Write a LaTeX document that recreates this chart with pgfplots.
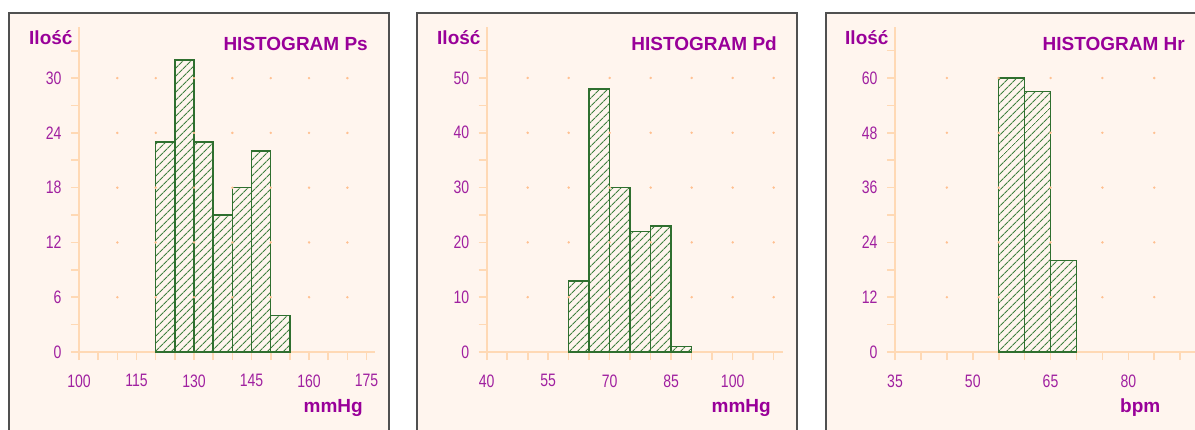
\documentclass[border=0pt]{standalone}
\usepackage{fontspec}
\setmainfont{Liberation Sans}
\newfontfamily\tickfont[FakeStretch=0.78]{Liberation Sans}
\usepackage{pgfplots}
\pgfplotsset{compat=1.18}
\usetikzlibrary{patterns.meta}
\definecolor{bgc}{HTML}{FFF5EE}
\definecolor{bordc}{HTML}{505050}
\definecolor{axc}{HTML}{FFD9B5}
\definecolor{dotc}{HTML}{FFC090}
\definecolor{txtc}{HTML}{990099}
\definecolor{tickc}{HTML}{A020A0}
\definecolor{barc}{HTML}{2F6F2F}
\definecolor{hatchc}{HTML}{3F803F}
\pgfplotsset{
  hist/.style={
    scale only axis, width=296pt, height=325pt,
    axis x line=bottom, axis y line=left,
    axis line style={-, draw=axc, line width=1.8pt},
    tick align=outside, major tick length=8pt, minor tick length=8pt,
    tick style={draw=axc, line width=1.6pt},
    minor tick style={draw=axc, line width=1.6pt},
    tick label style={font=\fontsize{18}{20}\tickfont, text=tickc},
    /pgf/number format/assume math mode=true,
    xticklabel style={yshift=-11pt},
    yticklabel style={xshift=-6pt},
    ymin=0, clip=false,
  },
  dots/.style={only marks, mark=*, mark size=1pt, color=dotc, mark options={draw=none, fill=dotc}},
  bars/.style={ybar interval, draw=barc, line width=1.5pt,
    preaction={fill=bgc},
    pattern={Lines[angle=45,distance=5.4pt,line width=1pt]}, pattern color=hatchc},
}
\newcommand{\bt}{\fontsize{19}{22}\selectfont\bfseries\color{txtc}}
\begin{document}
\begin{tikzpicture}[x=1pt,y=1pt]
\useasboundingbox (0,0) rectangle (1195,429);
\begin{scope}
\clip (0,0) rectangle (1195,429);
\fill[white] (0,0) rectangle (1195,429);
\filldraw[fill=bgc, draw=bordc, line width=1.5pt] (9,416) rectangle (389,-10);
\filldraw[fill=bgc, draw=bordc, line width=1.5pt] (417,416) rectangle (797,-10);
\filldraw[fill=bgc, draw=bordc, line width=1.5pt] (826,416) rectangle (1215,-10);
\end{scope}

% Panel 1
\begin{axis}[hist, at={(79pt,77pt)}, anchor=south west,
  xmin=100, xmax=177.2, ymax=35.6,
  xtick={100,115,130,145,160,175}, minor xtick={105,110,120,125,135,140,150,155,165,170},
  ytick={0,6,12,18,24,30}, minor ytick={3,9,15,21,27,33}]
\pgfplotsinvokeforeach{6,12,18,24,30}{
  \addplot[dots] coordinates {(110,#1) (120,#1) (130,#1) (140,#1) (150,#1) (160,#1) (170,#1)};
}
\addplot[bars] coordinates {(120,23) (125,32) (130,23) (135,15) (140,18) (145,22) (150,4) (155,4)};
\end{axis}

% Panel 2
\begin{axis}[hist, at={(486.7pt,77pt)}, anchor=south west,
  xmin=40, xmax=112.2, ymax=59.3,
  xtick={40,55,70,85,100}, minor xtick={45,50,60,65,75,80,90,95,105,110},
  ytick={0,10,20,30,40,50}, minor ytick={5,15,25,35,45,55}]
\pgfplotsinvokeforeach{10,20,30,40,50}{
  \addplot[dots] coordinates {(50,#1) (60,#1) (70,#1) (80,#1) (90,#1) (100,#1) (110,#1)};
}
\addplot[bars] coordinates {(60,13) (65,48) (70,30) (75,22) (80,23) (85,1) (90,1)};
\end{axis}

% Panel 3
\begin{axis}[hist, width=300pt, at={(895pt,77pt)}, anchor=south west,
  xmin=35, xmax=92.86, ymax=71.17,
  xtick={35,50,65,80}, minor xtick={40,45,55,60,70,75,85,90},
  ytick={0,12,24,36,48,60}, minor ytick={6,18,30,42,54,66}]
\pgfplotsinvokeforeach{12,24,36,48,60}{
  \addplot[dots] coordinates {(45,#1) (55,#1) (65,#1) (75,#1) (85,#1)};
}
\addplot[bars] coordinates {(55,60) (60,57) (65,20) (70,20)};
\end{axis}

% Texts
\node[anchor=base west, inner sep=0pt] at (29,384.5) {\bt Ilość};
\node[anchor=base east, inner sep=0pt] at (368,378.3) {\bt HISTOGRAM Ps};
\node[anchor=base east, inner sep=0pt] at (363,17) {\bt mmHg};
\node[anchor=base west, inner sep=0pt] at (437,384.5) {\bt Ilość};
\node[anchor=base east, inner sep=0pt] at (777,378.3) {\bt HISTOGRAM Pd};
\node[anchor=base east, inner sep=0pt] at (771,17) {\bt mmHg};
\node[anchor=base west, inner sep=0pt] at (845,384.5) {\bt Ilość};
\node[anchor=base east, inner sep=0pt] at (1185,378.3) {\bt HISTOGRAM Hr};
\node[anchor=base west, inner sep=0pt] at (1120,17) {\bt bpm};
\end{tikzpicture}
\end{document}
